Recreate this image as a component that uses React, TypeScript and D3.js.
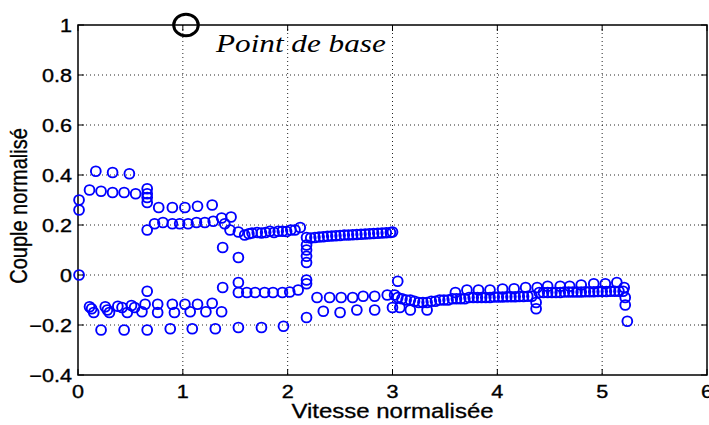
import * as d3 from "d3";

// points are [vitesse, couple]
const upperStart = [
  [0.01, 0.30], [0.01, 0.26], [0.11, 0.34], [0.22, 0.335], [0.33, 0.33], [0.44, 0.33],
  [0.55, 0.325], [0.66, 0.325], [0.66, 0.345], [0.66, 0.31], [0.66, 0.29],
];
const upperTop = [[0.17, 0.415], [0.33, 0.41], [0.49, 0.405]];
const upperMid = [[0.77, 0.27], [0.9, 0.27], [1.02, 0.27], [1.14, 0.275], [1.28, 0.28]];
const upperStep = [
  [0.66, 0.18], [0.73, 0.205], [0.81, 0.21], [0.9, 0.205], [0.97, 0.205], [1.05, 0.205],
  [1.13, 0.21], [1.21, 0.21], [1.29, 0.215], [1.37, 0.228], [1.4, 0.205], [1.46, 0.232],
  [1.45, 0.18], [1.53, 0.172], [1.59, 0.16], [1.38, 0.11], [1.53, 0.07],
];
const upperFlat = [
  [1.63, 0.165], [1.66, 0.168], [1.71, 0.17], [1.75, 0.168], [1.79, 0.17], [1.83, 0.175],
  [1.87, 0.17], [1.91, 0.175], [1.95, 0.175], [1.99, 0.174], [2.03, 0.18], [2.07, 0.18],
  [2.12, 0.19],
];
const upperColumn = [[2.18, 0.15], [2.18, 0.12], [2.18, 0.1], [2.18, 0.075], [2.18, 0.05]];
const upperRight = [
  [2.22, 0.148], [2.26, 0.15], [2.3, 0.152], [2.34, 0.153], [2.38, 0.155], [2.42, 0.156],
  [2.46, 0.157], [2.5, 0.158], [2.54, 0.16], [2.58, 0.16], [2.62, 0.161], [2.66, 0.162],
  [2.7, 0.163], [2.74, 0.164], [2.78, 0.165], [2.82, 0.166], [2.86, 0.167], [2.9, 0.168],
  [2.94, 0.169], [2.98, 0.17], [3.0, 0.172],
];

const lowerStart = [[0.01, 0.0], [0.66, -0.065]];
const lowerRowA = [
  [0.11, -0.127], [0.13, -0.135], [0.26, -0.127], [0.28, -0.14], [0.38, -0.125],
  [0.42, -0.13], [0.51, -0.122], [0.54, -0.13], [0.64, -0.117], [0.76, -0.117],
  [0.9, -0.117], [1.02, -0.117], [1.14, -0.117], [1.28, -0.113],
];
const lowerRowB = [
  [0.15, -0.15], [0.3, -0.15], [0.47, -0.15], [0.61, -0.147], [0.76, -0.15],
  [0.92, -0.15], [1.07, -0.147], [1.22, -0.147], [1.37, -0.147],
];
const lowerRowC = [
  [0.22, -0.22], [0.44, -0.22], [0.66, -0.22], [0.88, -0.215], [1.09, -0.215],
  [1.31, -0.215], [1.53, -0.21], [1.75, -0.21], [1.96, -0.205],
];
const lowerMisc = [[1.38, -0.05], [1.53, -0.03], [1.53, -0.07]];
const lowerFlat = [
  [1.61, -0.07], [1.69, -0.07], [1.78, -0.07], [1.86, -0.07], [1.95, -0.07],
  [2.02, -0.068], [2.1, -0.06],
];
const lowerColumn = [[2.18, -0.02], [2.18, -0.035], [2.18, -0.17]];
const lowerRowD = [
  [2.28, -0.09], [2.4, -0.09], [2.51, -0.09], [2.62, -0.09], [2.72, -0.085],
  [2.83, -0.085], [2.95, -0.08], [3.02, -0.08],
];
const lowerRowE = [
  [2.34, -0.145], [2.5, -0.15], [2.66, -0.14], [2.83, -0.14], [3.0, -0.13],
  [3.07, -0.13], [3.17, -0.14], [3.33, -0.14], [3.05, -0.025],
];
const denseRow1 = [
  [3.05, -0.09], [3.09, -0.095], [3.13, -0.1], [3.17, -0.1], [3.21, -0.105], [3.25, -0.11],
  [3.29, -0.11], [3.33, -0.11], [3.37, -0.105], [3.41, -0.105], [3.45, -0.1], [3.49, -0.1],
  [3.53, -0.1], [3.57, -0.095], [3.61, -0.095], [3.65, -0.095], [3.69, -0.095], [3.73, -0.09],
  [3.77, -0.09], [3.81, -0.09], [3.85, -0.09], [3.89, -0.09], [3.93, -0.09], [3.97, -0.088],
  [4.01, -0.088], [4.05, -0.088], [4.09, -0.087], [4.13, -0.087], [4.17, -0.087],
  [4.21, -0.086], [4.25, -0.086], [4.29, -0.085], [4.33, -0.085],
];
const denseRow2 = [
  [4.4, -0.07], [4.44, -0.07], [4.48, -0.07], [4.52, -0.07], [4.56, -0.07], [4.6, -0.07],
  [4.64, -0.068], [4.68, -0.068], [4.72, -0.068], [4.76, -0.068], [4.8, -0.068],
  [4.84, -0.067], [4.88, -0.067], [4.92, -0.067], [4.96, -0.066], [5.0, -0.066],
  [5.04, -0.066], [5.08, -0.065], [5.12, -0.065], [5.16, -0.065], [5.2, -0.065],
];
const sparseUpper = [
  [3.6, -0.07], [3.71, -0.06], [3.82, -0.06], [3.93, -0.06], [4.05, -0.056], [4.16, -0.055],
  [4.27, -0.05], [4.38, -0.05], [4.48, -0.045], [4.6, -0.045], [4.69, -0.045], [4.8, -0.04],
  [4.92, -0.035], [5.03, -0.035], [5.14, -0.03], [5.21, -0.05],
];
const endPoints = [
  [4.37, -0.11], [4.37, -0.135], [5.22, -0.09], [5.22, -0.12], [5.24, -0.185],
];

const basePoint = [1.03, 1];
const xTicks = [0, 1, 2, 3, 4, 5, 6];
const yTicks = [-0.4, -0.2, 0, 0.2, 0.4, 0.6, 0.8, 1];

const allPoints = [
  ...upperStart, ...upperTop, ...upperMid, ...upperStep, ...upperFlat, ...upperColumn,
  ...upperRight, ...lowerStart, ...lowerRowA, ...lowerRowB, ...lowerRowC, ...lowerMisc,
  ...lowerFlat, ...lowerColumn, ...lowerRowD, ...lowerRowE, ...denseRow1, ...denseRow2,
  ...sparseUpper, ...endPoints,
];

const W = 709;
const H = 425;
const left = 78;
const right = 707;
const top = 25;
const bottom = 375;
const sx = 1.2; // picture is a bit wider than tall

export default function App() {
  const x = d3.scaleLinear().domain([0, 6]).range([left, right]);
  const y = d3.scaleLinear().domain([-0.4, 1]).range([bottom, top]);
  const fmt = (v: number) => (v === 0 ? "0" : d3.format("")(+v.toFixed(1)));

  return (
    <svg
      width={W}
      height={H}
      style={{ position: "absolute", left: 0, top: 0, background: "#fff" }}
      fontFamily="'Liberation Sans', Arial, sans-serif"
    >
      {/* grid */}
      {xTicks.slice(1, -1).map((t) => (
        <line key={"gx" + t} x1={x(t)} x2={x(t)} y1={top} y2={bottom}
          stroke="#000" strokeWidth={1} strokeDasharray="1,3" opacity={0.85} />
      ))}
      {yTicks.slice(1, -1).map((t) => (
        <line key={"gy" + t} x1={left} x2={right} y1={y(t)} y2={y(t)}
          stroke="#000" strokeWidth={1} strokeDasharray="1,3" opacity={0.85} />
      ))}

      {/* ticks */}
      {xTicks.map((t) => (
        <g key={"tx" + t}>
          <line x1={x(t)} x2={x(t)} y1={bottom} y2={bottom - 6} stroke="#000" />
          <line x1={x(t)} x2={x(t)} y1={top} y2={top + 6} stroke="#000" />
          <text transform={`translate(${x(t)},398) scale(${sx},1)`} textAnchor="middle"
            fontSize={18} stroke="#000" strokeWidth={0.35}>
            {t}
          </text>
        </g>
      ))}
      {yTicks.map((t) => (
        <g key={"ty" + t}>
          <line x1={left} x2={left + 6} y1={y(t)} y2={y(t)} stroke="#000" />
          <line x1={right} x2={right - 6} y1={y(t)} y2={y(t)} stroke="#000" />
          <text transform={`translate(72,${y(t) + 6.5}) scale(${sx},1)`} textAnchor="end"
            fontSize={18} stroke="#000" strokeWidth={0.35}>
            {fmt(t)}
          </text>
        </g>
      ))}

      {/* box */}
      <rect x={left} y={top} width={right - left} height={bottom - top}
        fill="none" stroke="#000" strokeWidth={1.5} />

      {/* data */}
      {allPoints.map((d, i) => (
        <circle key={i} cx={x(d[0])} cy={y(d[1])} r={4.9}
          fill="none" stroke="#0000ff" strokeWidth={1.9} />
      ))}

      {/* base point */}
      <ellipse cx={x(basePoint[0])} cy={y(basePoint[1])} rx={12.3} ry={10.8}
        fill="none" stroke="#000" strokeWidth={3} />
      <text transform={`translate(216,52) scale(${sx},1)`} fontFamily="'Liberation Serif', 'Times New Roman', serif"
        fontStyle="italic" fontSize={26}>
        Point de base
      </text>

      {/* axis titles */}
      <text transform={`translate(${(left + right) / 2},418) scale(${sx},1)`} textAnchor="middle"
        fontSize={20} stroke="#000" strokeWidth={0.3}>
        Vitesse normalisée
      </text>
      <text transform={`translate(27,206) scale(${sx},1) rotate(-90)`} textAnchor="middle"
        fontSize={20} stroke="#000" strokeWidth={0.3}>
        Couple normalisé
      </text>
    </svg>
  );
}
